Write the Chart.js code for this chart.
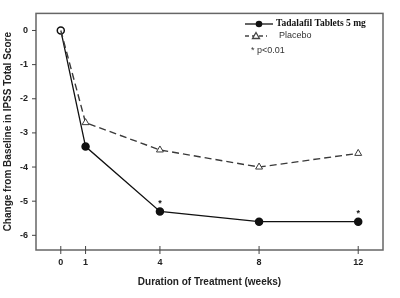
<!DOCTYPE html>
<html lang="en">
<head>
    <meta charset="UTF-8">
    <title>Change from Baseline in IPSS Total Score</title>
    <script src="https://cdn.jsdelivr.net/npm/chart.js@4"></script>
    <style>
        html, body { margin: 0; padding: 0; background: #fff; }
        #wrap { width: 400px; height: 298px; }
    </style>
</head>
<body>
    <div id="wrap"><canvas id="ipssChart" width="400" height="298"></canvas></div>
    <script>
        // weeks of treatment and mean change from baseline
        const weeks = [0, 1, 4, 8, 12];
        const tadalafil = [0, -3.4, -5.3, -5.6, -5.6];
        const placebo = [0, -2.7, -3.5, -4.0, -3.6];
        const yTicks = [0, -1, -2, -3, -4, -5, -6];
        const significantWeeks = [4, 12];  // p<0.01

        const sans = "'Liberation Sans', Arial, sans-serif";
        const serif = "'Liberation Serif', 'Times New Roman', serif";

        // frame, tick marks, asterisks and the in-plot legend
        const framePlugin = {
            id: 'frame',
            afterDraw(chart) {
                const ctx = chart.ctx;
                const a = chart.chartArea;
                const xs = chart.scales.x, ys = chart.scales.y;
                ctx.save();
                ctx.strokeStyle = '#666';
                ctx.lineWidth = 1.5;
                ctx.strokeRect(a.left, a.top, a.right - a.left, a.bottom - a.top);

                ctx.lineWidth = 1;
                ctx.strokeStyle = '#444';
                weeks.forEach(w => {
                    const x = xs.getPixelForValue(w);
                    ctx.beginPath();
                    ctx.moveTo(x, a.bottom - 4);
                    ctx.lineTo(x, a.bottom + 4);
                    ctx.stroke();
                });
                yTicks.forEach(v => {
                    const y = ys.getPixelForValue(v);
                    ctx.beginPath();
                    ctx.moveTo(a.left - 4, y);
                    ctx.lineTo(a.left, y);
                    ctx.stroke();
                });

                // significance markers
                ctx.fillStyle = '#111';
                ctx.font = 'bold 9px ' + sans;
                ctx.textAlign = 'center';
                ctx.textBaseline = 'middle';
                significantWeeks.forEach(w => {
                    const i = weeks.indexOf(w);
                    ctx.fillText('*', xs.getPixelForValue(w), ys.getPixelForValue(tadalafil[i]) - 8);
                });

                // legend
                const lx = 245;
                ctx.strokeStyle = '#111';
                ctx.lineWidth = 1.3;
                ctx.beginPath();
                ctx.moveTo(lx, 24); ctx.lineTo(lx + 28, 24);
                ctx.stroke();
                ctx.beginPath();
                ctx.arc(lx + 14, 24, 3.3, 0, Math.PI * 2);
                ctx.fill();
                ctx.textAlign = 'left';
                ctx.font = 'bold 9.5px ' + serif;
                ctx.fillText('Tadalafil Tablets 5 mg', lx + 31, 24);

                ctx.strokeStyle = '#444';
                ctx.setLineDash([4, 3]);
                ctx.beginPath();
                ctx.moveTo(lx, 36); ctx.lineTo(lx + 22, 36);
                ctx.stroke();
                ctx.setLineDash([]);
                ctx.fillStyle = '#fff';
                ctx.beginPath();
                ctx.moveTo(lx + 11, 32.5); ctx.lineTo(lx + 14.5, 38.5); ctx.lineTo(lx + 7.5, 38.5);
                ctx.closePath();
                ctx.fill(); ctx.stroke();
                ctx.fillStyle = '#333';
                ctx.font = '9px ' + sans;
                ctx.fillText('Placebo', lx + 34, 36);
                ctx.fillText('* p<0.01', lx + 6, 51);
                ctx.restore();
            }
        };

        new Chart(document.getElementById('ipssChart'), {
            type: 'line',
            data: {
                labels: weeks,
                datasets: [{
                    label: 'Placebo',
                    data: weeks.map((w, i) => ({x: w, y: placebo[i]})),
                    borderColor: '#3a3a3a',
                    borderWidth: 1.4,
                    borderDash: [7, 4],
                    pointStyle: 'triangle',
                    pointRadius: weeks.map(w => w === 0 ? 0 : 4),
                    pointBackgroundColor: '#fff',
                    pointBorderColor: '#3a3a3a',
                    pointBorderWidth: 1,
                    tension: 0,
                }, {
                    label: 'Tadalafil Tablets 5 mg',
                    data: weeks.map((w, i) => ({x: w, y: tadalafil[i]})),
                    borderColor: '#111',
                    borderWidth: 1.3,
                    pointStyle: 'circle',
                    pointRadius: 3.5,
                    pointBackgroundColor: weeks.map(w => w === 0 ? '#fff' : '#111'),
                    pointBorderColor: '#111',
                    pointBorderWidth: 1.5,
                    tension: 0,
                }]
            },
            options: {
                responsive: false,
                animation: false,
                layout: { padding: { left: 0, top: 10, right: 17, bottom: 0 } },
                plugins: {
                    legend: { display: false },
                    tooltip: { enabled: false }
                },
                scales: {
                    x: {
                        type: 'linear',
                        min: -1,
                        max: 13,
                        afterBuildTicks: s => { s.ticks = weeks.map(v => ({value: v})); },
                        afterFit: s => { s.height = 48; },
                        grid: { display: false, drawTicks: false },
                        border: { display: false },
                        ticks: {
                            padding: 7,
                            color: '#222',
                            font: { family: sans, size: 9, weight: 'bold' }
                        },
                        title: {
                            display: true,
                            text: 'Duration of Treatment (weeks)',
                            color: '#222',
                            font: { family: sans, size: 10, weight: 'bold' },
                            padding: { top: 10, bottom: 10 }
                        }
                    },
                    y: {
                        min: -6.43,
                        max: 0.5,
                        afterBuildTicks: s => { s.ticks = yTicks.map(v => ({value: v})); },
                        afterFit: s => { s.width = 36; },
                        grid: { display: false, drawTicks: false },
                        border: { display: false },
                        ticks: {
                            padding: 8,
                            color: '#222',
                            font: { family: sans, size: 9, weight: 'bold' }
                        },
                        title: {
                            display: true,
                            text: 'Change from Baseline in IPSS Total Score',
                            color: '#222',
                            font: { family: sans, size: 10, weight: 'bold' },
                            padding: { top: 2, bottom: 0 }
                        }
                    }
                }
            },
            plugins: [framePlugin]
        });
    </script>
</body>
</html>
